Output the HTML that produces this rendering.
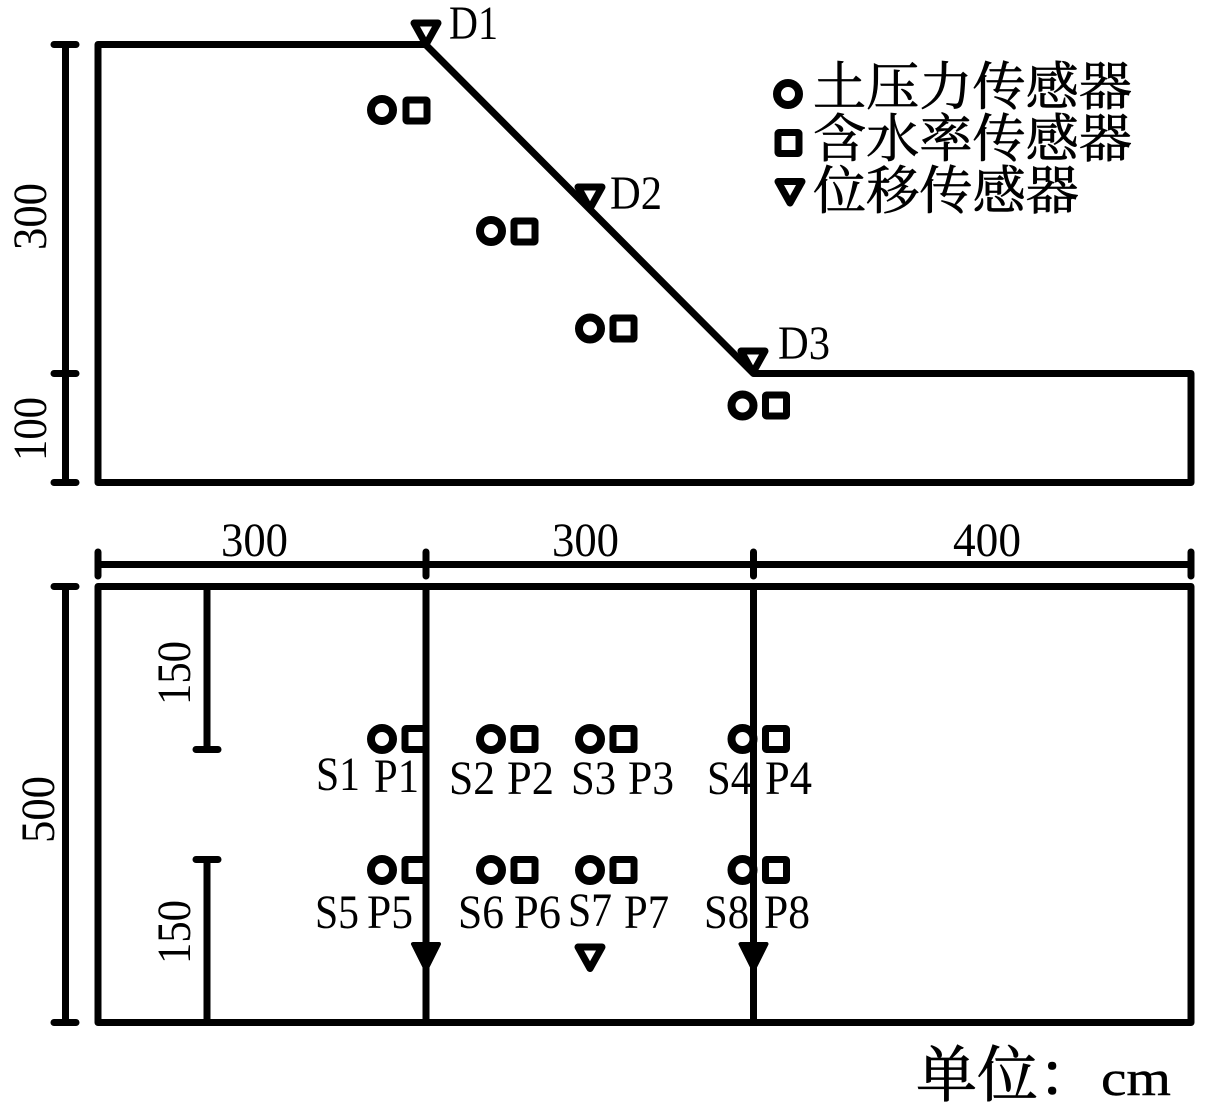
<!DOCTYPE html>
<html><head><meta charset="utf-8"><style>
html,body{margin:0;padding:0;background:#fff}
svg{display:block}
text{font-family:"Liberation Serif","Noto Serif CJK SC",serif;fill:#000}
.l{font-size:48px}
.c{font-family:"Liberation Serif","Noto Serif CJK SC",serif;font-size:52px;stroke:#000;stroke-width:.7px}
</style></head><body>
<svg width="1215" height="1108" viewBox="0 0 1215 1108" xmlns="http://www.w3.org/2000/svg">
<defs>
<g id="o"><circle r="11" fill="#fff" stroke="#000" stroke-width="8"/></g>
<g id="s"><rect x="-10.500" y="-10.500" width="21" height="21" rx="1" fill="#fff" stroke="#000" stroke-width="7"/></g>
<g id="t"><path d="M-12 -9.500H12L0 12Z" fill="#fff" stroke="#000" stroke-width="7" stroke-linejoin="round"/></g>
<g id="f"><path d="M-13 -12H13L0 14Z" fill="#000" stroke="#000" stroke-width="4" stroke-linejoin="round"/></g>
</defs>
<g fill="none" stroke="#000" stroke-width="7" stroke-linecap="round" stroke-linejoin="round">
<path d="M98 44.500H425.500L753.500 373.500H1191V482.500H98Z"/>
<path d="M65.500 44.500V482.500M54 44.500H76M54 373.500H76M54 482.500H76"/>
<rect x="98" y="586.500" width="1093" height="436"/>
<path d="M65.500 586.500V1022.500M54 586.500H76M54 1022.500H76"/>
<path d="M98 564.500H1191M98 552V576M426 552V576M753.500 552V576M1191 552V576"/>
<path d="M207 586.500V749.500M196 749.500H218M207 859.500V1022.500M196 859.500H218"/>
</g>
<use href="#t" x="426" y="32.500"/><use href="#t" x="590" y="196.500"/><use href="#t" x="753" y="360.500"/>
<use href="#o" x="382" y="110"/><use href="#s" x="416.500" y="110.500"/>
<use href="#o" x="491" y="231"/><use href="#s" x="524.500" y="231.500"/>
<use href="#o" x="590" y="328.500"/><use href="#s" x="623.500" y="328.500"/>
<use href="#o" x="742.500" y="405.500"/><use href="#s" x="776" y="405.500"/>
<use href="#o" x="382" y="739"/><use href="#s" x="415.500" y="739"/>
<use href="#o" x="491" y="739"/><use href="#s" x="524.500" y="739"/>
<use href="#o" x="590" y="739"/><use href="#s" x="623.500" y="739"/>
<use href="#o" x="742.500" y="739"/><use href="#s" x="776" y="739"/>
<use href="#o" x="382" y="870"/><use href="#s" x="415.500" y="870"/>
<use href="#o" x="491" y="870"/><use href="#s" x="524.500" y="870"/>
<use href="#o" x="590" y="870"/><use href="#s" x="623.500" y="870"/>
<use href="#o" x="742.500" y="870"/><use href="#s" x="776" y="870"/>
<use href="#t" x="590" y="956.500"/>
<use href="#f" x="426" y="956"/><use href="#f" x="753.500" y="956"/>
<path d="M426 586V1022M753.500 586V1022" stroke="#000" stroke-width="7" fill="none"/>
<use href="#o" x="788" y="94"/><use href="#s" x="788.500" y="143"/><use href="#t" x="790" y="191"/>

<text class="c" x="813" y="105" textLength="319" lengthAdjust="spacingAndGlyphs">土压力传感器</text>
<text class="c" x="813" y="157" textLength="319" lengthAdjust="spacingAndGlyphs">含水率传感器</text>
<text class="c" x="813" y="209" textLength="266" lengthAdjust="spacingAndGlyphs">位移传感器</text>
<text x="916" y="1096" style="font-size:61px;stroke:#000;stroke-width:.8px">单位：</text>
<text x="1101" y="1095" style="font-size:50px;stroke:#000;stroke-width:.4px" textLength="70" lengthAdjust="spacingAndGlyphs">cm</text>

<g>
<text class="l" x="449" y="39" textLength="49" lengthAdjust="spacingAndGlyphs">D1</text>
<text class="l" x="610" y="209" textLength="52" lengthAdjust="spacingAndGlyphs">D2</text>
<text class="l" x="778" y="359" textLength="52" lengthAdjust="spacingAndGlyphs">D3</text>
<text class="l" x="221" y="556" textLength="67" lengthAdjust="spacingAndGlyphs">300</text>
<text class="l" x="552" y="556" textLength="67" lengthAdjust="spacingAndGlyphs">300</text>
<text class="l" x="953" y="556" textLength="68" lengthAdjust="spacingAndGlyphs">400</text>
<text class="l" transform="translate(46 250) rotate(-90)" textLength="67" lengthAdjust="spacingAndGlyphs">300</text>
<text class="l" transform="translate(46 461) rotate(-90)" textLength="64" lengthAdjust="spacingAndGlyphs">100</text>
<text class="l" transform="translate(54 843) rotate(-90)" textLength="67" lengthAdjust="spacingAndGlyphs">500</text>
<text class="l" transform="translate(190 705) rotate(-90)" textLength="64" lengthAdjust="spacingAndGlyphs">150</text>
<text class="l" transform="translate(190 964) rotate(-90)" textLength="64" lengthAdjust="spacingAndGlyphs">150</text>
<text class="l" x="316" y="790" textLength="44" lengthAdjust="spacingAndGlyphs">S1</text>
<text class="l" x="374" y="792" textLength="45" lengthAdjust="spacingAndGlyphs">P1</text>
<text class="l" x="449" y="794" textLength="46" lengthAdjust="spacingAndGlyphs">S2</text>
<text class="l" x="507" y="794" textLength="47" lengthAdjust="spacingAndGlyphs">P2</text>
<text class="l" x="571" y="794" textLength="45" lengthAdjust="spacingAndGlyphs">S3</text>
<text class="l" x="628" y="794" textLength="46" lengthAdjust="spacingAndGlyphs">P3</text>
<text class="l" x="707" y="794" textLength="45" lengthAdjust="spacingAndGlyphs">S4</text>
<text class="l" x="765" y="794" textLength="47" lengthAdjust="spacingAndGlyphs">P4</text>
<text class="l" x="315" y="928" textLength="44" lengthAdjust="spacingAndGlyphs">S5</text>
<text class="l" x="367" y="928" textLength="46" lengthAdjust="spacingAndGlyphs">P5</text>
<text class="l" x="458" y="928" textLength="46" lengthAdjust="spacingAndGlyphs">S6</text>
<text class="l" x="514" y="928" textLength="47" lengthAdjust="spacingAndGlyphs">P6</text>
<text class="l" x="568" y="926" textLength="44" lengthAdjust="spacingAndGlyphs">S7</text>
<text class="l" x="624" y="928" textLength="45" lengthAdjust="spacingAndGlyphs">P7</text>
<text class="l" x="704" y="928" textLength="45" lengthAdjust="spacingAndGlyphs">S8</text>
<text class="l" x="764" y="928" textLength="46" lengthAdjust="spacingAndGlyphs">P8</text>
</g>
</svg>
</body></html>
